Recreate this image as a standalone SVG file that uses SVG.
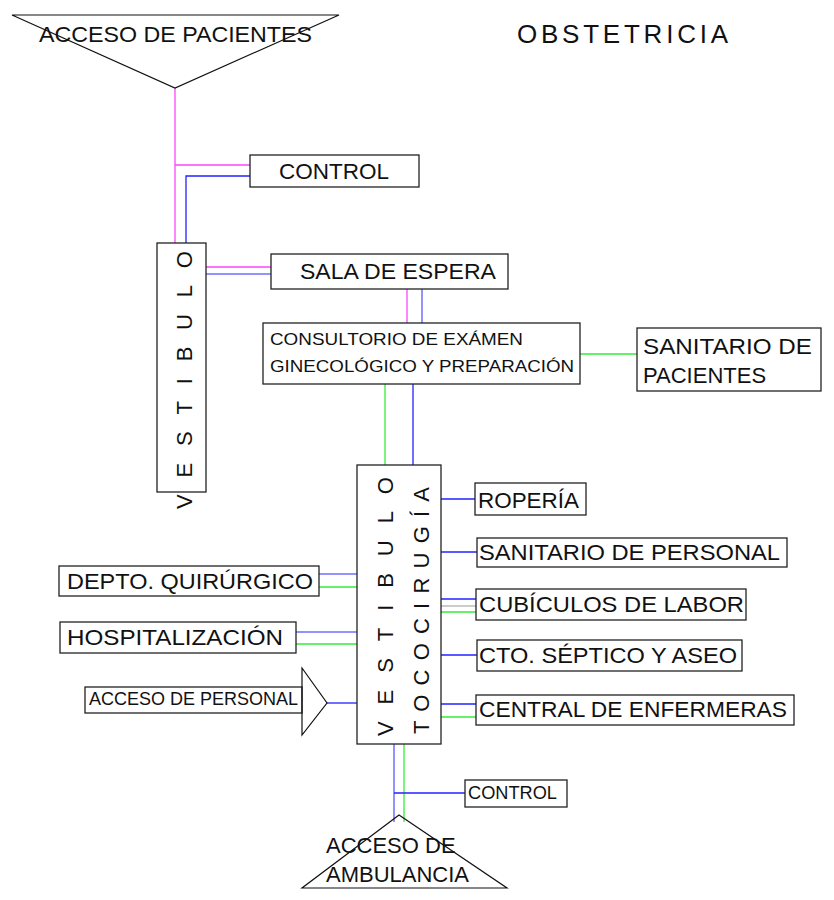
<svg xmlns="http://www.w3.org/2000/svg" width="834" height="900" viewBox="0 0 834 900">
<style>
.box{fill:#fff;stroke:#222;stroke-width:1.3}
.tri{fill:none;stroke:#111;stroke-width:1.2}
.t{font-family:"Liberation Sans",Arial,sans-serif;fill:#111}
.m{stroke:#ff44ff;stroke-width:1.3;fill:none}
.b{stroke:#2222ff;stroke-width:1.3;fill:none}
.lb{stroke:#6f6fff;stroke-width:1.5;fill:none}
.g{stroke:#33ee33;stroke-width:1.3;fill:none}
.gr{stroke:#bbbbbb;stroke-width:1.3;fill:none}
</style>
<rect width="834" height="900" fill="#fff"/>
<g id="connectors">
<path class="m" d="M175,88 V243"/>
<path class="m" d="M175,165 H250"/>
<path class="b" d="M186,243 V176 H250"/>
<path class="m" d="M206,267 H271"/>
<path class="lb" d="M206,274 H271"/>
<path class="m" d="M407,289 V323"/>
<path class="lb" d="M422,289 V323"/>
<path class="g" d="M580,354 H637"/>
<path class="g" d="M385,384 V465"/>
<path class="b" d="M413,384 V465"/>
<path class="b" d="M441,499 H475"/>
<path class="b" d="M441,552 H477"/>
<path class="b" d="M441,599 H476"/>
<path class="gr" d="M441,606 H476"/>
<path class="g" d="M441,612 H476"/>
<path class="b" d="M441,655 H477"/>
<path class="b" d="M441,704 H476"/>
<path class="g" d="M441,717 H476"/>
<path class="lb" d="M319,574 H357"/>
<path class="g" d="M319,587 H357"/>
<path class="lb" d="M296,632 H357"/>
<path class="g" d="M296,644 H357"/>
<path class="b" d="M327,703 H357"/>
<path class="lb" d="M394,744 V822"/>
<path class="g" d="M404,744 V822"/>
<path class="b" d="M394,793 H465"/>
</g>
<g id="titulo">
<text class="t" x="517" y="43" font-size="26" textLength="211" lengthAdjust="spacing">OBSTETRICIA</text>
</g>
<g id="acceso-pacientes">
<path class="tri" d="M12,15 H339 L175,88 Z"/>
<text class="t" x="39" y="42" font-size="22" textLength="273" lengthAdjust="spacingAndGlyphs">ACCESO DE PACIENTES</text>
</g>
<g id="control-1">
<rect class="box" x="250" y="155" width="169" height="32"/>
<text class="t" x="279" y="179" font-size="22" textLength="110" lengthAdjust="spacingAndGlyphs">CONTROL</text>
</g>
<g id="vestibulo">
<rect class="box" x="157" y="243" width="49" height="249"/>
<text class="t" font-size="22" transform="translate(191.5,509) rotate(-90)" textLength="258" lengthAdjust="spacing">VESTIBULO</text>
</g>
<g id="sala-espera">
<rect class="box" x="271" y="254" width="237" height="35"/>
<text class="t" x="300" y="279" font-size="22" textLength="196" lengthAdjust="spacingAndGlyphs">SALA DE ESPERA</text>
</g>
<g id="consultorio">
<rect class="box" x="263" y="323" width="317" height="61"/>
<text class="t" x="270" y="345" font-size="17" textLength="253" lengthAdjust="spacingAndGlyphs">CONSULTORIO DE EXÁMEN</text>
<text class="t" x="270" y="372" font-size="17" textLength="304" lengthAdjust="spacingAndGlyphs">GINECOLÓGICO Y PREPARACIÓN</text>
</g>
<g id="sanitario-pacientes">
<rect class="box" x="637" y="328" width="184" height="63"/>
<text class="t" x="643" y="354" font-size="22" textLength="169" lengthAdjust="spacingAndGlyphs">SANITARIO DE</text>
<text class="t" x="643" y="383" font-size="22">PACIENTES</text>
</g>
<g id="vestibulo-tococirugia">
<rect class="box" x="357" y="465" width="84" height="279"/>
<text class="t" font-size="22" transform="translate(393,736) rotate(-90)" textLength="259" lengthAdjust="spacing">VESTIBULO</text>
<text class="t" font-size="22" transform="translate(429,734) rotate(-90)" textLength="247" lengthAdjust="spacing">TOCOCIRUGÍA</text>
</g>
<g id="roperia">
<rect class="box" x="475" y="483" width="111" height="32"/>
<text class="t" x="478" y="508" font-size="22" textLength="101" lengthAdjust="spacingAndGlyphs">ROPERÍA</text>
</g>
<g id="sanitario-personal">
<rect class="box" x="477" y="538" width="310" height="29"/>
<text class="t" x="479" y="560" font-size="22" textLength="301" lengthAdjust="spacingAndGlyphs">SANITARIO DE PERSONAL</text>
</g>
<g id="cubiculos">
<rect class="box" x="476" y="589" width="270" height="31"/>
<text class="t" x="479" y="612" font-size="22" textLength="265" lengthAdjust="spacingAndGlyphs">CUBÍCULOS DE LABOR</text>
</g>
<g id="cto-septico">
<rect class="box" x="477" y="640" width="265" height="31"/>
<text class="t" x="479" y="663" font-size="22" textLength="258" lengthAdjust="spacingAndGlyphs">CTO. SÉPTICO Y ASEO</text>
</g>
<g id="central-enfermeras">
<rect class="box" x="476" y="695" width="318" height="30"/>
<text class="t" x="479" y="717" font-size="22" textLength="308" lengthAdjust="spacingAndGlyphs">CENTRAL DE ENFERMERAS</text>
</g>
<g id="depto-quirurgico">
<rect class="box" x="59" y="566" width="260" height="30"/>
<text class="t" x="67" y="589" font-size="22" textLength="246" lengthAdjust="spacingAndGlyphs">DEPTO. QUIRÚRGICO</text>
</g>
<g id="hospitalizacion">
<rect class="box" x="60" y="622" width="236" height="31"/>
<text class="t" x="67" y="645" font-size="22" textLength="216" lengthAdjust="spacingAndGlyphs">HOSPITALIZACIÓN</text>
</g>
<g id="acceso-personal">
<rect class="box" x="85" y="687" width="217" height="26"/>
<path class="tri" d="M302,668 L327,703 L302,735 Z"/>
<text class="t" x="89" y="705" font-size="18" textLength="209" lengthAdjust="spacingAndGlyphs">ACCESO DE PERSONAL</text>
</g>
<g id="control-2">
<rect class="box" x="465" y="780" width="102" height="27"/>
<text class="t" x="468" y="799" font-size="18" textLength="89" lengthAdjust="spacingAndGlyphs">CONTROL</text>
</g>
<g id="acceso-ambulancia">
<path class="tri" d="M399,815 L507,888 H302 Z"/>
<text class="t" x="326" y="853" font-size="22">ACCESO DE</text>
<text class="t" x="326" y="882" font-size="22">AMBULANCIA</text>
</g>
</svg>
